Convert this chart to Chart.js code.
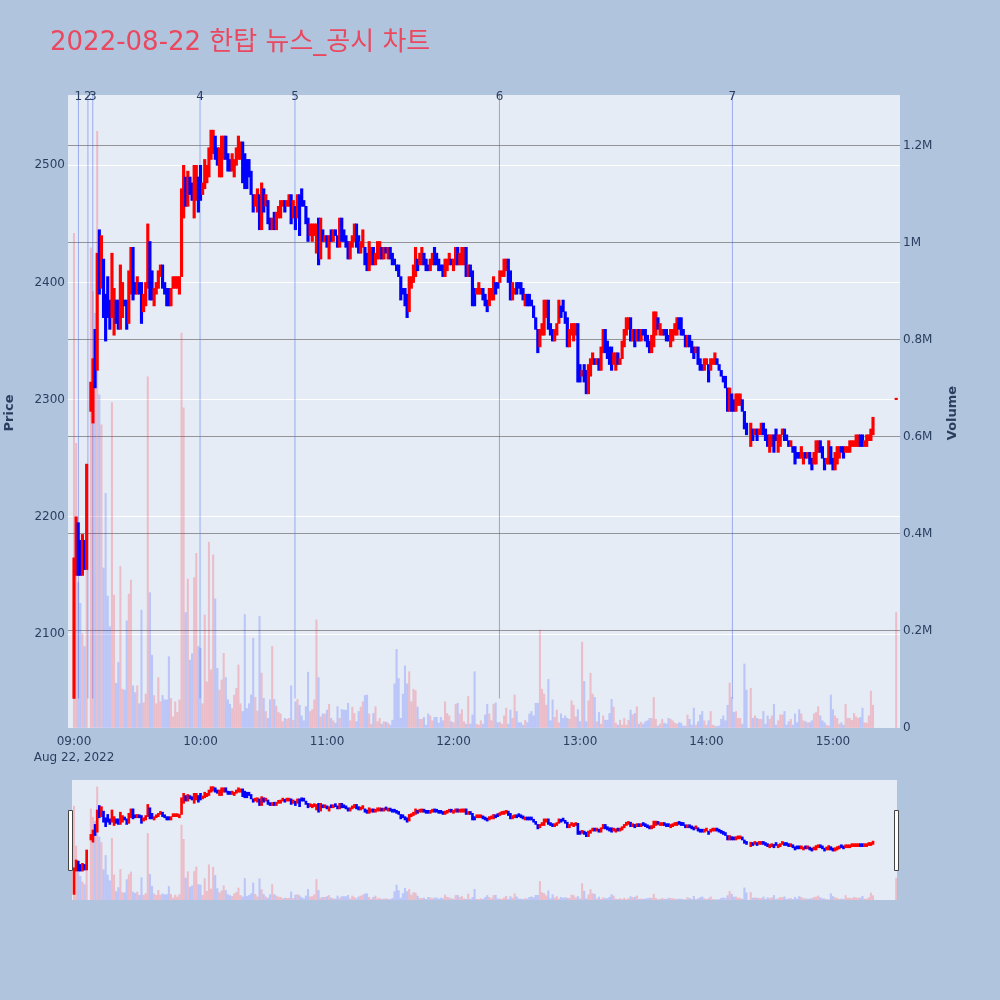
<!DOCTYPE html>
<html><head><meta charset="utf-8">
<script src="https://cdn.jsdelivr.net/npm/chart.js@4.4.0/dist/chart.umd.min.js"></script>
<style>
html,body{margin:0;padding:0;background:#b0c4de;}
#wrap{position:relative;width:1000px;height:1000px;}
canvas{position:absolute;left:0;top:0;}
</style></head><body>
<div id="wrap"><canvas id="main" width="1000" height="1000"></canvas><canvas id="slider" width="1000" height="1000"></canvas></div>
<script>
const chartTitle = '2022-08-22 한탑 뉴스_공시 차트';
const dateLabel = 'Aug 22, 2022';
const startMinute = 540; // 09:00, one candle per minute
const opens = [
2045,2150,2195,2180,2150,2180,2155,null,2290,2280,
2360,2325,2445,2395,2420,2390,2405,2385,2370,2355,
2385,2385,2360,2370,2385,2385,2365,2390,2430,2400,
2390,2400,2400,2375,2380,2395,2435,2410,2380,2390,
2395,2405,2415,2400,2395,2395,2380,2395,2395,2395,
2390,2405,2455,2490,2465,2490,2485,2455,2470,2490,
2500,2475,2480,2485,2490,2505,2510,2525,2515,2490,
2490,2505,2525,2510,2505,2495,2490,2500,2505,2505,
2520,2510,2505,2505,2495,2475,2465,2460,2475,2445,
2480,2465,2470,2455,2445,2460,2445,2455,2455,2465,
2470,2465,2465,2475,2455,2465,2455,2475,2480,2470,
2465,2455,2440,2435,2440,2425,2455,2420,2445,2435,
2440,2420,2445,2435,2445,2440,2430,2455,2445,2440,
2435,2420,2430,2435,2450,2440,2425,2430,2430,2425,
2410,2415,2430,2415,2420,2420,2430,2420,2430,2420,
2430,2425,2420,2415,2415,2405,2395,2395,2390,2375,
2395,2400,2405,2420,2415,2415,2425,2420,2415,2410,
2415,2430,2425,2420,2415,2415,2405,2410,2415,2420,
2410,2415,2430,2415,2415,2415,2430,2405,2415,2410,
2395,2390,2390,2390,2395,2390,2385,2380,2385,2385,
2400,2400,2400,2405,2405,2410,2420,2410,2385,2390,
2400,2400,2400,2395,2380,2390,2390,2385,2380,2370,
2360,2345,2355,2355,2370,2385,2365,2360,2350,2355,
2365,2380,2385,2375,2370,2345,2355,2350,2355,2365,
2330,2320,2330,2325,2305,2320,2330,2335,2330,2335,
2325,2340,2360,2350,2345,2345,2330,2325,2340,2330,
2335,2345,2355,2360,2370,2350,2360,2350,2360,2350,
2360,2360,2355,2350,2340,2345,2355,2370,2355,2355,
2360,2360,2355,2345,2350,2355,2355,2370,2370,2360,
2355,2345,2355,2350,2345,2340,2345,2335,2330,2325,
2330,2330,2325,2330,2330,2335,2330,2325,2320,2320,
2310,2290,2305,2300,2290,2295,2295,2300,2290,2280,
null,2260,2275,2270,2275,2270,2270,2280,2275,2270,
2255,2260,2270,2275,2255,2260,2270,2275,2270,2265,
2260,2260,2260,2255,2255,2250,2245,2255,2250,2255,
2250,2245,2245,2255,2265,2260,2250,2245,2245,2260,
2250,2240,2245,2250,2260,2260,2255,2255,2255,2260,
2260,2260,2260,2270,2270,2260,2260,2265,2265,2270
];
const closes = [
2165,2200,2150,2150,2185,2155,2245,null,2315,2335,
2310,2425,2390,2440,2370,2350,2370,2360,2425,2395,
2365,2360,2415,2400,2380,2360,2410,2430,2385,2390,
2405,2390,2365,2390,2400,2450,2385,2385,2395,2400,
2410,2415,2395,2390,2380,2380,2395,2405,2405,2405,
2405,2480,2500,2465,2495,2475,2470,2500,2500,2460,
2470,2485,2505,2500,2515,2530,2530,2505,2500,2515,
2525,2525,2505,2495,2495,2510,2505,2515,2525,2520,
2485,2480,2480,2490,2475,2460,2475,2480,2445,2485,
2460,2475,2450,2445,2455,2445,2460,2465,2470,2470,
2460,2470,2475,2450,2470,2445,2475,2440,2465,2465,
2450,2435,2450,2450,2450,2450,2415,2455,2435,2440,
2430,2440,2435,2445,2440,2430,2455,2435,2435,2430,
2420,2435,2440,2450,2430,2425,2435,2445,2415,2410,
2435,2430,2415,2425,2435,2435,2420,2430,2425,2430,
2420,2415,2415,2410,2405,2385,2390,2380,2370,2405,
2405,2415,2430,2410,2425,2430,2415,2410,2410,2420,
2425,2415,2415,2410,2410,2405,2420,2420,2425,2415,
2420,2430,2415,2425,2430,2430,2405,2415,2405,2380,
2380,2395,2400,2395,2385,2380,2375,2395,2395,2405,
2390,2395,2410,2410,2420,2420,2400,2385,2400,2395,
2390,2395,2390,2385,2390,2380,2380,2380,2370,2360,
2340,2360,2365,2385,2385,2360,2355,2350,2360,2365,
2385,2370,2375,2365,2345,2360,2365,2365,2365,2315,
2315,2325,2315,2305,2330,2335,2340,2330,2335,2325,
2345,2360,2340,2335,2330,2325,2340,2340,2330,2335,
2350,2360,2370,2370,2350,2360,2345,2360,2350,2360,
2355,2350,2345,2340,2355,2375,2375,2360,2365,2360,
2355,2350,2350,2360,2360,2365,2370,2360,2355,2355,
2345,2355,2345,2340,2335,2345,2330,2325,2325,2335,
2335,2315,2335,2335,2340,2330,2325,2320,2315,2310,
2290,2310,2290,2290,2305,2305,2305,2290,2275,2270,
null,2280,2265,2275,2265,2275,2280,2270,2265,2260,
2270,2270,2255,2265,2270,2270,2275,2265,2265,2260,
2265,2255,2245,2250,2250,2260,2255,2250,2255,2245,
2240,2255,2265,2265,2255,2250,2240,2250,2265,2245,
2240,2255,2260,2260,2255,2250,2260,2260,2265,2265,
2265,2270,2270,2260,2260,2265,2270,2270,2275,2285
];
// volume in thousands of shares
const volumeK = [
1020,587,300,257,195,168,450,null,990,900,
855,1230,687,625,330,484,272,209,671,274,
92,135,333,80,78,221,276,305,87,73,
87,50,243,52,70,724,279,150,67,50,
104,54,67,58,58,147,61,23,54,32,
58,814,660,238,307,140,153,310,360,168,
164,50,233,95,383,120,357,266,123,78,
99,154,104,58,49,40,68,82,130,50,
34,234,40,50,68,185,63,35,230,113,
61,34,20,58,168,59,45,32,29,13,
20,18,20,87,16,54,59,47,25,15,
44,115,34,38,58,223,104,23,29,29,
37,49,20,15,10,44,20,38,37,37,
51,15,43,30,13,34,43,54,67,68,
29,8,30,44,13,20,8,13,12,10,
6,16,91,162,102,20,70,128,91,116,
54,80,77,43,18,18,22,6,29,25,
15,22,22,10,22,15,54,30,25,13,
11,49,51,29,38,13,8,65,8,27,
116,8,6,15,8,27,49,29,15,49,
52,11,12,8,25,41,8,37,20,68,
34,11,11,6,16,11,29,34,25,51,
51,202,80,70,47,100,15,58,22,37,
11,29,20,25,20,18,56,47,23,38,
13,177,96,13,56,113,70,63,13,32,
8,25,16,16,30,59,43,10,6,16,
6,20,6,16,37,27,30,44,8,12,
8,13,15,20,20,63,18,4,8,18,
10,8,20,18,15,10,8,11,10,4,
4,27,18,6,41,6,13,27,34,15,
6,15,34,6,4,3,4,18,25,15,
47,93,63,32,34,20,20,8,132,78,
null,82,20,25,20,18,18,34,8,25,
18,25,49,6,15,27,27,34,6,13,
18,6,29,11,38,29,15,13,11,11,
15,29,32,44,25,15,11,6,4,68,
38,25,20,8,11,6,49,20,20,16,
30,23,20,22,41,11,10,25,76,47
];
// closing auction 15:30
const closingMinute = 930;
const closingOpen = 2300;
const closingClose = 2300;
const closingVolumeK = 238;
// news / disclosure events
const eventLabels = ['1','2','3','4','5','6','7'];
const eventMinutes = [542.1, 546.6, 548.9, 599.8, 644.8, 741.8, 852.3];
const priceTicks = [2100,2200,2300,2400,2500];
const volumeTicksK = [0,200,400,600,800,1000,1200];
const timeTicks = [540,600,660,720,780,840,900];

const X_MIN = 537.15, X_MAX = 931.8;
const P_MIN = 2019.8, P_MAX = 2560;
const V_MAX = 1305;
const UP = '#ff0000', DOWN = '#0000ff';
const UP_V = 'rgba(255,40,60,0.24)', DOWN_V = 'rgba(30,50,255,0.21)';
const FONT = '"DejaVu Sans", "Noto Sans CJK KR", sans-serif';
const TXT = '#2a3f5f';

const candles = [], vols = [];
opens.forEach((o, i) => {
  const c = closes[i];
  if (o == null || c == null) return;
  candles.push({x: startMinute + i, y: [o, c], up: c > o});
  if (volumeK[i] != null) vols.push({x: startMinute + i, y: volumeK[i], up: c > o});
});
candles.push({x: closingMinute, y: [closingOpen, closingClose], up: true});
vols.push({x: closingMinute, y: closingVolumeK, up: true});
const lowPrice = Math.min(...opens.filter(v => v != null), ...closes.filter(v => v != null));

function fmtTime(v) {
  const h = Math.floor(v / 60), m = v % 60;
  return String(h).padStart(2, '0') + ':' + String(m).padStart(2, '0');
}

function makeDatasets(bodyW, volW, minLen) {
  return [
    {type: 'bar', label: 'Volume', data: vols, yAxisID: 'yv', order: 3, grouped: false,
     barThickness: volW, backgroundColor: ctx => (ctx.raw && ctx.raw.up) ? UP_V : DOWN_V, borderWidth: 0},
    {type: 'bar', label: 'Price', data: candles, yAxisID: 'yp', order: 1, grouped: false,
     barThickness: bodyW, minBarLength: minLen, backgroundColor: ctx => (ctx.raw && ctx.raw.up) ? UP : DOWN, borderWidth: 0}
  ];
}

const decor = {
  id: 'decor',
  beforeDraw(chart) {
    const {ctx, chartArea: a} = chart;
    ctx.save();
    ctx.fillStyle = '#e5ecf6';
    ctx.fillRect(a.left, a.top, a.right - a.left, a.bottom - a.top);
    ctx.restore();
  },
  beforeDatasetsDraw(chart) {
    const {ctx, chartArea: a, scales} = chart;
    const yBottom = scales.yp.getPixelForValue(lowPrice);
    ctx.save();
    eventMinutes.forEach((m, i) => {
      const x = scales.x.getPixelForValue(m);
      let col = 'rgba(60,90,230,0.45)', w = 1;
      if (i === 3 || i === 4) { col = 'rgba(90,130,240,0.3)'; w = 2; }
      if (i === 5) { col = 'rgba(70,80,130,0.45)'; }
      ctx.strokeStyle = col; ctx.lineWidth = w;
      ctx.beginPath(); ctx.moveTo(x, a.top); ctx.lineTo(x, yBottom); ctx.stroke();
    });
    ctx.restore();
  },
  afterDraw(chart) {
    const {ctx, chartArea: a, scales} = chart;
    ctx.save();
    ctx.fillStyle = '#e9485f';
    ctx.font = '26px ' + FONT;
    ctx.textBaseline = 'alphabetic'; ctx.textAlign = 'left';
    ctx.fillText(chartTitle, 50, 50);
    ctx.fillStyle = TXT;
    ctx.font = '12px ' + FONT;
    ctx.textAlign = 'center'; ctx.textBaseline = 'middle';
    eventMinutes.forEach((m, i) => {
      ctx.fillText(eventLabels[i], scales.x.getPixelForValue(m), a.top + 2);
    });
    ctx.font = 'bold 13px ' + FONT;
    ctx.save(); ctx.translate(10, 413); ctx.rotate(-Math.PI / 2); ctx.fillText('Price', 0, 0); ctx.restore();
    ctx.save(); ctx.translate(953, 413); ctx.rotate(-Math.PI / 2); ctx.fillText('Volume', 0, 0); ctx.restore();
    ctx.restore();
  }
};

new Chart(document.getElementById('main'), {
  data: {datasets: makeDatasets(2.5, 1.4, 1.5)},
  options: {
    responsive: false, animation: false, devicePixelRatio: 1,
    layout: {padding: {top: 95, left: 0, right: 0, bottom: 0}},
    plugins: {legend: {display: false}, tooltip: {enabled: false}, title: {display: false}},
    scales: {
      x: {type: 'linear', position: 'bottom', min: X_MIN, max: X_MAX, offset: false,
          grid: {display: false, drawTicks: false}, border: {display: false},
          afterBuildTicks: s => { s.ticks = timeTicks.map(v => ({value: v})); },
          afterFit: s => { s.height = 272; },
          ticks: {color: TXT, font: {family: FONT, size: 12, lineHeight: 1.4}, padding: 5, maxRotation: 0, autoSkip: false,
                  callback: v => v === timeTicks[0] ? [fmtTime(v), dateLabel] : fmtTime(v)}},
      yp: {type: 'linear', position: 'left', min: P_MIN, max: P_MAX,
           grid: {color: '#ffffff', lineWidth: 1, drawTicks: false}, border: {display: false},
           afterBuildTicks: s => { s.ticks = priceTicks.map(v => ({value: v})); },
           afterFit: s => { s.width = 68; },
           ticks: {color: TXT, font: {family: FONT, size: 12}, padding: 3, callback: v => String(v)}},
      yv: {type: 'linear', position: 'right', min: 0, max: V_MAX,
           grid: {color: ctx => (ctx.tick && ctx.tick.value === 0) ? 'rgba(0,0,0,0)' : 'rgba(90,90,90,0.6)', lineWidth: 1, drawTicks: false},
           border: {display: false},
           afterBuildTicks: s => { s.ticks = volumeTicksK.map(v => ({value: v})); },
           afterFit: s => { s.width = 100; },
           ticks: {color: TXT, font: {family: FONT, size: 12}, padding: 3,
                   callback: v => v === 0 ? '0' : (v / 1000) + 'M'}}
    }
  },
  plugins: [decor]
});

const sliderDecor = {
  id: 'sliderDecor',
  beforeDraw(chart) {
    const {ctx, chartArea: a} = chart;
    ctx.save();
    ctx.fillStyle = '#e5ecf6';
    ctx.fillRect(a.left + 4, a.top, a.right - a.left - 7, a.bottom - a.top);
    ctx.restore();
  },
  afterDraw(chart) {
    const {ctx, chartArea: a} = chart;
    const h = 60, top = a.top + (a.bottom - a.top - h) / 2;
    ctx.save();
    ctx.fillStyle = '#ffffff'; ctx.strokeStyle = '#444444'; ctx.lineWidth = 1;
    [a.left + 0.5, a.right - 5.5].forEach(x => {
      ctx.beginPath(); ctx.rect(x, top + 0.5, 4, h); ctx.fill(); ctx.stroke();
    });
    ctx.restore();
  }
};

new Chart(document.getElementById('slider'), {
  data: {datasets: makeDatasets(2, 1.4, 3)},
  options: {
    responsive: false, animation: false, devicePixelRatio: 1,
    layout: {padding: {top: 780, left: 68, right: 100, bottom: 100}},
    plugins: {legend: {display: false}, tooltip: {enabled: false}},
    scales: {
      x: {type: 'linear', display: false, min: X_MIN, max: X_MAX, offset: false},
      yp: {type: 'linear', display: false, min: P_MIN, max: P_MAX},
      yv: {type: 'linear', display: false, min: 0, max: V_MAX}
    }
  },
  plugins: [sliderDecor]
});
</script>
</body></html>
